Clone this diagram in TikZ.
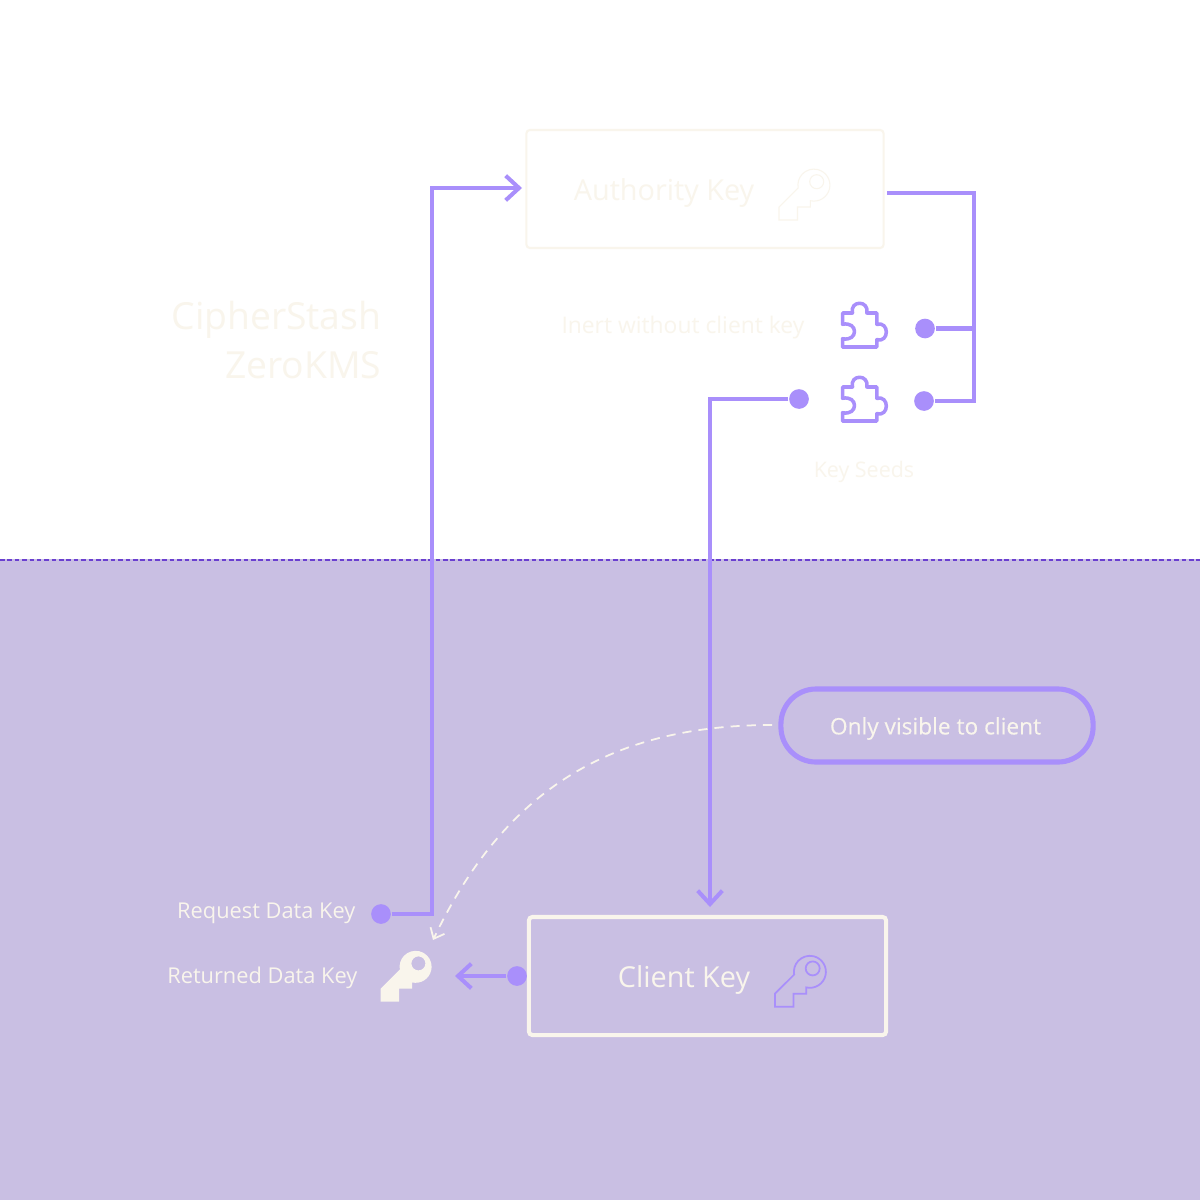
\documentclass[tikz,border=0pt]{standalone}
\usepackage{fontspec}
\setmainfont{Open Sans}
\usetikzlibrary{arrows.meta}

\definecolor{flowpurple}{HTML}{A98FFB}
\definecolor{zonepurple}{HTML}{C9BFE3}
\definecolor{edgepurple}{HTML}{6A3FD0}
\definecolor{cream}{HTML}{F9F5EC}

\tikzset{
	flow/.style={draw=flowpurple, line width=1.15pt},
	flowarrow/.style={flow, -{Straight Barb[length=3.8pt, width=7pt, line width=1.15pt]}},
	pin/.style={circle, fill=flowpurple, inner sep=0pt, minimum size=5.6pt},
	keybox/.style={draw=cream, rounded corners=1pt, minimum width=3.57cm, minimum height=1.18cm},
	label/.style={text=cream, inner sep=0pt},
	pics/keyicon/.style={code={
		\path[pic actions, even odd rule] (-35,22) -- (-35,35) -- (-16.5,35) -- (-16.5,22) -- (-3.7,22) -- (-3.7,15.7)
			arc[start angle=103, end angle=-190, radius=16] -- cycle
			(2.7,-3.3) circle[radius=7];
	}},
	pics/seedicon/.style={code={
		\draw[flowpurple, line width=1pt, line join=round] (0,0) -- (10,0) .. controls (7,-13) and (27,-13) .. (24.3,0)
			-- (34.3,0) -- (34.3,11.3) .. controls (47,8) and (47,30) .. (34.3,26.7)
			-- (34.3,34) -- (0,34) -- (0,25.7) .. controls (16,29) and (16,8) .. (0,11.3) -- cycle;
	}},
}

\begin{document}
\begin{tikzpicture}[x=0.01cm, y=-0.01cm]
	\useasboundingbox (0,0) rectangle (1200,1200);
	\fill [white] (0,0) rectangle (1200,1200);
	\fill [zonepurple] (0,559) rectangle (1200,1200);
	\draw [edgepurple, line width=0.7pt, dash pattern=on 1.3pt off 0.8pt] (0,560) -- (1200,560);

	\node [keybox, draw, line width=0.6pt] (authority) at (705,189) {};
	\node [keybox, line width=1.15pt] (client) at (707.5,976) {};
	\node [draw=flowpurple, line width=1.45pt, rounded corners=10pt, minimum width=3.12cm, minimum height=0.73cm] (only) at (937,725.5) {};

	\node [label, font=\fontsize{6.45}{8}\selectfont\addfontfeature{FakeBold=0.3}] (onlytext) at (935.5,728.5) {Only visible to client};
	\node [label, font=\fontsize{8.2}{10}\selectfont] (authoritytext) at (664,193.5) {Authority Key};
	\node [label, font=\fontsize{8.2}{10}\selectfont] (clienttext) at (684,979.5) {Client Key};
	\node [label, anchor=east, font=\fontsize{10.6}{13}\selectfont] (cipher) at (382,319.5) {CipherStash};
	\node [label, anchor=east, font=\fontsize{10.6}{13}\selectfont] (zerokms) at (382,365.5) {ZeroKMS};
	\node [label, anchor=east, font=\fontsize{6.5}{8}\selectfont] (inert) at (805,327.5) {Inert without client key};
	\node [label, font=\fontsize{6.1}{8}\selectfont] (seeds) at (864,472) {Key Seeds};
	\node [label, anchor=east, font=\fontsize{6.2}{8}\selectfont] (request) at (356,913.5) {Request Data Key};
	\node [label, anchor=east, font=\fontsize{6.2}{8}\selectfont] (returned) at (358,977.5) {Returned Data Key};

	\pic [draw=cream, line width=0.3pt] at (814,185) {keyicon};
	\pic [draw=flowpurple, line width=0.5pt] at (810,971.7) {keyicon};
	\pic [fill=cream] at (415.7,966.7) {keyicon};
	\pic at (842.5,313) {seedicon};
	\pic at (842.5,387) {seedicon};

	\node [pin] (seedtop) at (925,328.5) {};
	\node [pin] (seedright) at (924,401) {};
	\node [pin] (seedleft) at (799,399) {};
	\node [pin] (requestpin) at (381,914) {};
	\node [pin] (clientpin) at (517,976) {};

	\coordinate (authorityout) at (887,193);
	\coordinate (bustop) at (974,193);
	\coordinate (busjoin) at (974,328.5);
	\coordinate (requestturn) at (432,914);
	\coordinate (authorityin) at (522,188);
	\coordinate (seedturn) at (710,399);
	\coordinate (clientin) at (710,907);
	\coordinate (returnedhead) at (455,976);
	\coordinate (onlyout) at (772,725);
	\coordinate (returnedkey) at (433,940);

	\draw [flow, line join=miter] (authorityout) -- (bustop) |- (seedright);
	\draw [flow] (seedtop) -- (busjoin);
	\draw [flowarrow] (requestpin) -- (requestturn) |- (authorityin);
	\draw [flowarrow] (seedleft) -- (seedturn) -- (clientin);
	\draw [flowarrow] (clientpin) -- (returnedhead);
	\draw [cream, line width=0.5pt, dash pattern=on 2.6pt off 2pt, -{Straight Barb[length=2.6pt, width=4.4pt, line width=0.5pt]}] (onlyout) .. controls (600,725) and (500,800) .. (returnedkey);
\end{tikzpicture}
\end{document}
